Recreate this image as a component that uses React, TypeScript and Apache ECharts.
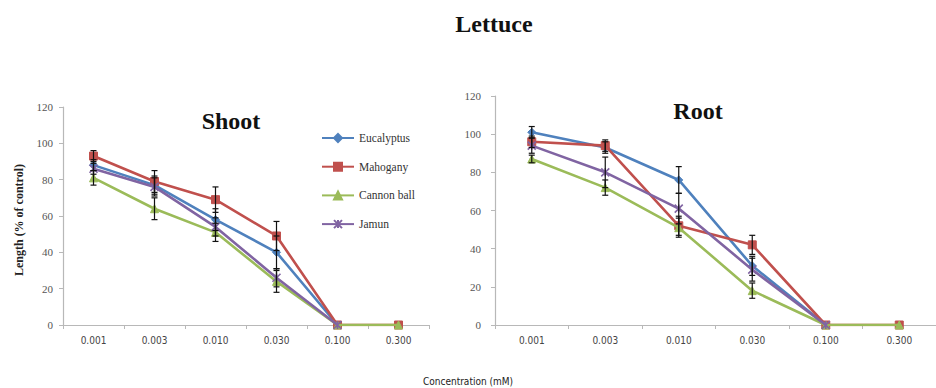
import React, { useEffect, useRef } from "react";
import * as echarts from "echarts";

const categories = ["0.001", "0.003", "0.010", "0.030", "0.100", "0.300"];
const seriesNames = ["Eucalyptus", "Mahogany", "Cannon ball", "Jamun"];
const colors = ["#4F81BD", "#C0504D", "#9BBB59", "#8064A2"];
const yTicks = [0, 20, 40, 60, 80, 100, 120];

// Shoot (% of control)
const shootEucalyptus = [88, 77, 58, 40, 0, null];
const shootMahogany = [93, 79, 69, 49, 0, 0];
const shootCannonBall = [81, 64, 51, 24, 0, 0];
const shootJamun = [86, 76, 54, 26, 0, null];
const shootEucalyptusErr = [3, 5, 6, 9, 0, null];
const shootMahoganyErr = [3, 6, 7, 8, 0, 0];
const shootCannonBallErr = [4, 6, 5, 6, 0, 0];
const shootJamunErr = [3, 5, 5, 5, 0, null];

// Root (% of control)
const rootEucalyptus = [101, 93, 76, 31, 0, null];
const rootMahogany = [96, 94, 52, 42, 0, 0];
const rootCannonBall = [87, 72, 51, 18, 0, 0];
const rootJamun = [94, 80, 61, 29, 0, null];
const rootEucalyptusErr = [3, 3, 7, 5, 0, null];
const rootMahoganyErr = [3, 3, 5, 5, 0, 0];
const rootCannonBallErr = [2, 4, 5, 4, 0, 0];
const rootJamunErr = [4, 8, 8, 6, 0, null];

const JAMUN_SYMBOL = "path://M0,0L10,10M10,0L0,10M5,0L5,10";
const symbols = ["diamond", "rect", "triangle", JAMUN_SYMBOL];
const symbolSizes = [8, 8, 8, 8];

const SERIF = "Liberation Serif";
const NARROW = "DejaVu Sans Condensed";

function errorRender(params: any, api: any) {
  const x = api.value(0);
  const y = api.value(1);
  const e = api.value(2);
  if (!e) return null;
  const hi = api.coord([x, y + e]);
  const lo = api.coord([x, y - e]);
  const w = 3;
  const style = { stroke: "#111", lineWidth: 1.2 };
  return {
    type: "group",
    children: [
      { type: "line", shape: { x1: hi[0], y1: hi[1], x2: lo[0], y2: lo[1] }, style },
      { type: "line", shape: { x1: hi[0] - w, y1: hi[1], x2: hi[0] + w, y2: hi[1] }, style },
      { type: "line", shape: { x1: lo[0] - w, y1: lo[1], x2: lo[0] + w, y2: lo[1] }, style },
    ],
  };
}

function buildSeries(values: (number | null)[][], errs: (number | null)[][], gridIdx: number) {
  const out: any[] = [];
  values.forEach((vals, k) => {
    out.push({
      name: seriesNames[k],
      type: "line",
      xAxisIndex: gridIdx,
      yAxisIndex: gridIdx,
      data: vals,
      symbol: symbols[k],
      symbolSize: symbolSizes[k],
      showAllSymbol: true,
      connectNulls: false,
      z: 2 + k,
      lineStyle: { color: colors[k], width: 2.6 },
      itemStyle: { color: colors[k], borderColor: colors[k], borderWidth: k === 3 ? 1.6 : 1 },
    });
  });
  values.forEach((vals, k) => {
    const data: any[] = [];
    vals.forEach((v, i) => {
      const e = errs[k][i];
      if (v != null && e != null) data.push([i, v, e]);
    });
    out.push({
      name: "err-" + gridIdx + "-" + k,
      type: "custom",
      xAxisIndex: gridIdx,
      yAxisIndex: gridIdx,
      renderItem: errorRender,
      encode: { x: 0, y: 1 },
      data,
      z: 10,
      silent: true,
    });
  });
  return out;
}

function makeXAxis(gridIndex: number) {
  return {
    type: "category",
    gridIndex,
    data: categories,
    boundaryGap: true,
    axisLine: { lineStyle: { color: "#b8b8b8", width: 1.2 } },
    axisTick: { show: true, length: 4, alignWithLabel: false, interval: 0, lineStyle: { color: "#b8b8b8" } },
    axisLabel: { interval: 0, color: "#444", fontFamily: NARROW, fontSize: 10, margin: 10 },
    splitLine: { show: false },
  };
}

function makeYAxis(gridIndex: number, margin: number) {
  return {
    type: "value",
    gridIndex,
    min: yTicks[0],
    max: yTicks[yTicks.length - 1],
    interval: yTicks[1] - yTicks[0],
    axisLine: { show: true, lineStyle: { color: "#b8b8b8", width: 1.2 } },
    axisTick: { show: true, length: 4, lineStyle: { color: "#b8b8b8" } },
    axisLabel: { color: "#555", fontFamily: SERIF, fontSize: 11, margin },
    splitLine: { show: false },
  };
}

export default function App() {
  const ref = useRef<HTMLDivElement>(null);
  useEffect(() => {
    if (!ref.current) return;
    const chart = echarts.init(ref.current, undefined, { renderer: "svg" });
    const series = [
      ...buildSeries(
        [shootEucalyptus, shootMahogany, shootCannonBall, shootJamun],
        [shootEucalyptusErr, shootMahoganyErr, shootCannonBallErr, shootJamunErr],
        0
      ),
      ...buildSeries(
        [rootEucalyptus, rootMahogany, rootCannonBall, rootJamun],
        [rootEucalyptusErr, rootMahoganyErr, rootCannonBallErr, rootJamunErr],
        1
      ),
    ];
    chart.setOption({
      animation: false,
      backgroundColor: "#ffffff",
      grid: [
        { left: 63, top: 107, width: 366, height: 218 },
        { left: 495, top: 96, width: 460, height: 229 },
      ],
      xAxis: [makeXAxis(0), makeXAxis(1)],
      yAxis: [makeYAxis(0, 10), makeYAxis(1, 14)],
      legend: {
        data: seriesNames,
        orient: "vertical",
        left: 316,
        top: 127,
        itemWidth: 32,
        itemHeight: 10,
        itemGap: 16.7,
        selectedMode: false,
        textStyle: { fontFamily: SERIF, fontSize: 11.5, color: "#333" },
      },
      graphic: [
        {
          type: "text",
          x: 494,
          y: 24,
          style: { text: "Lettuce", font: "bold 24px Liberation Serif", fill: "#111", align: "center", verticalAlign: "middle" },
        },
        {
          type: "text",
          x: 231,
          y: 121,
          style: { text: "Shoot", font: "bold 24px Liberation Serif", fill: "#111", align: "center", verticalAlign: "middle" },
        },
        {
          type: "text",
          x: 698,
          y: 111,
          style: { text: "Root", font: "bold 24px Liberation Serif", fill: "#111", align: "center", verticalAlign: "middle" },
        },
        {
          type: "text",
          x: 19,
          y: 220,
          rotation: Math.PI / 2,
          style: {
            text: "Length (% of control)",
            font: "bold 12px Liberation Serif",
            fill: "#222",
            align: "center",
            verticalAlign: "middle",
          },
        },
        {
          type: "text",
          x: 468,
          y: 381,
          style: {
            text: "Concentration (mM)",
            font: "10px DejaVu Sans Condensed",
            fill: "#222",
            align: "center",
            verticalAlign: "middle",
          },
        },
      ],
      series,
    });
    return () => chart.dispose();
  }, []);
  return (
    <div
      ref={ref}
      style={{ position: "fixed", left: 0, top: 0, width: 936, height: 388, background: "#fff" }}
    />
  );
}
